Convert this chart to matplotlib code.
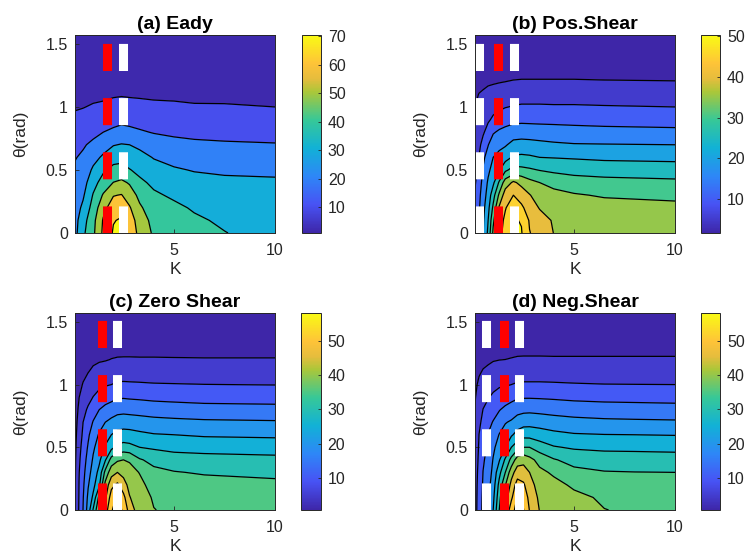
import numpy as np
import matplotlib
matplotlib.use("Agg")
import matplotlib.pyplot as plt
from matplotlib.colors import LinearSegmentedColormap, Normalize
from matplotlib.cm import ScalarMappable

plt.rcParams['font.family'] = ['Liberation Sans', 'DejaVu Sans']

# parula-like colormap anchors (position, colour)
parula_anchors = [
    (0.0, (0.2422, 0.1504, 0.6603)), (1 / 7, (0.2810, 0.3228, 0.9579)),
    (2 / 7, (0.1786, 0.5289, 0.9682)), (3 / 7, (0.0689, 0.6948, 0.8394)),
    (4 / 7, (0.2161, 0.7843, 0.5923)), (5 / 7, (0.6720, 0.7793, 0.2227)),
    (0.78, (0.90, 0.74, 0.24)), (6 / 7, (0.9970, 0.7659, 0.2199)),
    (1.0, (0.9769, 0.9839, 0.0805))]
parula = LinearSegmentedColormap.from_list("parula", parula_anchors, N=256)

# shared theta grid (rad)
theta = [0, 0.1, 0.2, 0.3, 0.4, 0.5, 0.6, 0.7, 0.8, 0.9, 1.0, 1.1, 1.2, 1.35, 1.5708]

# ---------------- (a) Eady ----------------
k_a = [0.1, 0.5, 1.0, 1.5, 2.0, 2.4, 2.8, 3.3, 4.0, 5.0, 6.0, 7.5, 10]
z_a_cols = [
    [27, 26.5, 25.5, 24.5, 23, 21.3, 19.5, 17, 14.5, 11.8, 9.2, 7, 5.3, 3.5, 1.8],
    [38, 36, 32, 28.7, 26, 24, 21.5, 19, 15.8, 12.7, 9.7, 7.5, 5.7, 3.8, 2],
    [48, 47, 44, 40.7, 36.5, 31.5, 27, 22, 17.5, 14, 10.8, 8, 6, 4, 2],
    [62, 61, 57, 51, 44, 38.5, 31.5, 26, 20, 15, 11.5, 8.3, 6, 4, 2],
    [71, 69.5, 65, 59.5, 50.2, 43, 36, 29.5, 22, 16.5, 12.8, 9, 6.5, 4, 2],
    [72, 71, 67, 60.5, 52, 43.5, 37, 30.5, 23.5, 17.5, 13.3, 9.3, 6.7, 4, 2],
    [67, 65.5, 61, 55, 49, 40.5, 35, 30, 22.5, 17, 13, 9, 6.5, 4, 2],
    [57, 55, 51.5, 47.5, 42, 37.5, 33, 28, 21, 16.5, 12.5, 8.8, 6.5, 4, 2],
    [48.5, 47, 44.5, 41.5, 38, 33.5, 29.5, 24.5, 19.5, 15.5, 11.8, 8.5, 6.3, 4, 2],
    [46, 44.5, 42, 38.5, 35, 31, 27, 22.5, 18.5, 15, 11.3, 8.5, 6.2, 4, 2],
    [43, 41.5, 39, 36.5, 33, 29.5, 26, 21.5, 18, 14.5, 10.8, 8, 6, 4, 2],
    [40.3, 38.5, 36.5, 34.5, 32, 28.5, 25.5, 21, 17.5, 14, 10.7, 8, 6, 4, 2],
    [36, 35.5, 34.5, 33.5, 31.5, 28, 25, 20.5, 17, 13.5, 10, 7.5, 5.5, 3.5, 2],
]
levels_a = [10, 20, 30, 40, 50, 60, 70]
clim_a = (1.0, 70.5)
cticks_a = [10, 20, 30, 40, 50, 60, 70]
white_a = [2.46]
red_a = [1.67]

# ---------------- (b) Pos.Shear ----------------
k_b = [0.1, 0.3, 0.5, 0.75, 1.0, 1.3, 1.6, 2.0, 2.4, 2.8, 3.3, 4.0, 5.0, 6.5, 10]
z_b_cols = [
    [12, 11.8, 11.3, 10.5, 9.5, 8.5, 7.6, 6.8, 6.1, 5.5, 5.0, 4.4, 3.6, 2.4, 1.6],
    [15, 14.8, 14.4, 13.8, 12.8, 11.5, 10.2, 8.8, 7.5, 6.6, 5.8, 5.1, 4, 2.5, 1.6],
    [19.8, 19.3, 18.5, 17.5, 16.5, 15.4, 14, 11.8, 9.3, 7.7, 6.6, 5.4, 4.3, 2.6, 1.6],
    [26, 25, 23.5, 22, 20.7, 19, 17, 14.8, 12, 9.3, 7.5, 6, 4.5, 2.7, 1.6],
    [36, 34, 31, 28, 24, 21.8, 20, 17.8, 14.5, 10.8, 8.5, 6.5, 4.6, 2.7, 1.6],
    [43, 42, 40.7, 36, 30.7, 24.7, 21.5, 18.7, 15.8, 12, 9.2, 7, 4.8, 2.8, 1.6],
    [47.5, 46.5, 44.5, 42.5, 37.5, 29, 23, 19.5, 16.5, 13, 9.8, 7.5, 5, 2.9, 1.6],
    [51, 50.5, 49.2, 45, 40.8, 31.8, 25.7, 21.5, 17.6, 13.6, 10.3, 7.8, 5.2, 3, 1.6],
    [50.3, 49.7, 46, 42.7, 38.7, 31.3, 26, 21.8, 17.8, 13.8, 10.6, 7.9, 5.3, 3, 1.6],
    [45.2, 44.5, 42.5, 40.3, 36.5, 30.7, 25.7, 21.6, 17.7, 13.7, 10.6, 7.9, 5.3, 3, 1.6],
    [43, 42, 39.7, 37.5, 35, 29.8, 25, 21.2, 17.5, 13.6, 10.6, 7.9, 5.3, 3, 1.6],
    [39.9, 39.5, 38.5, 36.5, 33.5, 29, 24.8, 20.7, 17.3, 13.5, 10.5, 7.8, 5.3, 3, 1.6],
    [39.5, 39, 38, 35.5, 32, 28.5, 24.5, 20.3, 17, 13.3, 10.5, 7.8, 5.3, 3, 1.6],
    [39, 38.5, 37, 34.5, 31.5, 28, 24, 20.2, 16.7, 13, 10.3, 7.7, 5.2, 3, 1.6],
    [38.5, 38, 36.5, 33.7, 31, 27.5, 23.7, 20, 16.3, 12.7, 10, 7.5, 5.1, 3, 1.6],
]
levels_b = [5, 10, 15, 20, 25, 30, 35, 40, 45, 50]
clim_b = (1.6, 50.3)
cticks_b = [10, 20, 30, 40, 50]
white_b = [0.32, 2.03]
red_b = [1.26]

# ---------------- (c) Zero Shear ----------------
k_c = [0.1, 0.3, 0.5, 0.75, 1.0, 1.3, 1.6, 1.9, 2.2, 2.5, 2.8, 3.3, 4.0, 5.0, 6.5, 10]
z_c_cols = [
    [4.8, 4.7, 4.6, 4.4, 4.2, 3.9, 3.6, 3.3, 2.9, 2.6, 2.3, 2.0, 1.7, 1.3, 0.8],
    [10.5, 10.3, 10.1, 9.8, 9.2, 8.5, 7.6, 6.7, 5.8, 4.9, 4.1, 3.4, 2.8, 1.9, 0.9],
    [15.1, 14.7, 14.1, 13.4, 12.6, 11.7, 10.8, 10, 8.5, 6.8, 5.2, 4.2, 3.3, 2.1, 0.9],
    [22.2, 21, 19.6, 18.2, 16.8, 15.5, 14.2, 12.5, 10.7, 8.5, 6.7, 4.9, 3.8, 2.3, 0.9],
    [30.5, 26, 23.5, 22, 20.6, 19.2, 17.5, 15.3, 12.8, 10.1, 8, 5.8, 4.2, 2.5, 0.9],
    [40, 36.5, 29, 26.5, 24, 22.3, 20.5, 18, 15, 11.5, 9, 6.7, 4.5, 2.6, 0.9],
    [47.5, 44, 41.5, 36.5, 29.5, 25.5, 23, 20, 16.5, 12.7, 9.6, 7.2, 4.7, 2.7, 0.9],
    [54.5, 52.5, 48.5, 43, 37, 28.5, 25, 21.3, 17.5, 13.5, 10, 7.6, 5.1, 2.8, 0.9],
    [57.5, 55.8, 51, 45, 39.3, 31.3, 26.5, 22.5, 18.3, 14.5, 10.6, 7.9, 5.3, 2.9, 1.0],
    [54, 51.5, 47, 43.5, 40, 32, 26.8, 22.8, 18.5, 14.6, 10.7, 7.9, 5.35, 2.9, 1.0],
    [48, 45.3, 43.5, 41.7, 39.5, 31.5, 26.7, 22.6, 18.3, 14.4, 10.6, 7.9, 5.35, 2.9, 1.0],
    [42, 41.7, 41.2, 39.8, 35.5, 30, 26, 22.2, 18, 14.2, 10.5, 7.8, 5.3, 2.9, 1.0],
    [40.1, 39.6, 38.2, 36.3, 33.5, 29.3, 25.3, 21.6, 17.6, 13.8, 10.3, 7.7, 5.3, 2.9, 1.0],
    [39.3, 38.8, 37.6, 35.3, 32, 28.7, 25, 21.2, 17.3, 13.5, 10.2, 7.6, 5.25, 2.9, 1.0],
    [38.8, 38.3, 37, 34.5, 31.7, 28.3, 24.4, 20.8, 16.9, 13.1, 10.05, 7.5, 5.2, 2.9, 1.0],
    [38.3, 37.8, 36.3, 33.7, 31.3, 27.8, 24.1, 20.5, 16.6, 12.9, 9.9, 7.4, 5.2, 2.9, 1.0],
]
levels_c = [5, 10, 15, 20, 25, 30, 35, 40, 45, 50, 55]
clim_c = (0.8, 58)
cticks_c = [10, 20, 30, 40, 50]
white_c = [2.16]
red_c = [1.45]

# ---------------- (d) Neg.Shear ----------------
k_d = [0.1, 0.3, 0.5, 0.75, 1.0, 1.3, 1.6, 1.9, 2.2, 2.5, 2.8, 3.3, 4.0, 5.0, 6.5, 8.0, 10]
z_d_cols = [
    [8, 7.9, 7.7, 7.4, 7.1, 6.7, 6.2, 5.7, 5.2, 4.7, 4.2, 3.6, 3, 2.1, 1],
    [12.5, 12.3, 12, 11.6, 11, 10.5, 10.05, 9, 7.8, 6.8, 5.7, 4.6, 3.7, 2.3, 1],
    [16.2, 15.9, 15.5, 15.1, 14.4, 13.5, 12.5, 11.3, 10.1, 8.6, 7, 5.3, 4.1, 2.5, 1],
    [19.5, 19, 18.3, 17.5, 16.6, 15.8, 15.2, 13.5, 11.5, 9.7, 7.8, 5.8, 4.4, 2.6, 1],
    [25, 23.8, 22.5, 21.3, 20.3, 19, 17.3, 15.3, 13, 10.8, 8.7, 6.6, 4.7, 2.7, 1],
    [35, 33.3, 31.5, 28.5, 24.5, 22.2, 20.2, 17.5, 14.7, 11.8, 9.4, 7.1, 4.9, 2.8, 1],
    [45, 42.5, 39.7, 35, 30.8, 25, 22, 19.7, 16.2, 12.5, 9.6, 7.3, 5, 2.8, 1],
    [53, 49, 46.5, 43, 36.5, 30, 24.3, 20.6, 17.3, 13.5, 10, 7.6, 5.2, 2.9, 1],
    [57, 55.5, 52.2, 47.5, 42.5, 33, 26.8, 22.2, 18.4, 14.4, 10.5, 7.8, 5.4, 3, 1],
    [55.2, 53.5, 50.7, 47.5, 43.3, 35, 28.3, 23, 18.8, 14.6, 10.6, 7.9, 5.45, 3, 1],
    [49.8, 48.5, 47, 45, 41.5, 35, 28.2, 23.2, 18.9, 14.6, 10.6, 7.9, 5.45, 3, 1],
    [44.8, 44, 42.8, 41.2, 38.3, 32.6, 27.3, 22.9, 18.6, 14.5, 10.6, 7.9, 5.45, 3, 1],
    [43.8, 43, 41.5, 39.2, 35.4, 30.4, 26.2, 22.3, 18.1, 14.3, 10.5, 7.8, 5.4, 3, 1],
    [42.3, 41.2, 39.2, 36.3, 33.3, 29.4, 25.4, 21.6, 17.6, 13.9, 10.3, 7.7, 5.4, 3, 1],
    [40.1, 39.3, 38, 35.3, 32.3, 29, 25.1, 21.1, 17.2, 13.6, 10.1, 7.6, 5.4, 3, 1],
    [39.4, 38.8, 37.6, 35.1, 32.2, 28.9, 25, 20.9, 17, 13.5, 10.05, 7.6, 5.4, 3, 1],
    [39, 38.5, 37.3, 35, 32, 28.7, 24.8, 20.7, 16.8, 13.3, 10, 7.6, 5.4, 3, 1],
]
levels_d = [5, 10, 15, 20, 25, 30, 35, 40, 45, 50, 55]
clim_d = (0.8, 58)
cticks_d = [10, 20, 30, 40, 50]
white_d = [0.64, 2.29]
red_d = [1.55]

titles = ["(a) Eady", "(b) Pos.Shear", "(c) Zero Shear", "(d) Neg.Shear"]
x_ticks = [5, 10]
y_ticks = [0, 0.5, 1, 1.5]
y_ticklabels = ["0", "0.5", "1", "1.5"]

panels = [
    (k_a, z_a_cols, levels_a, clim_a, cticks_a, white_a, red_a),
    (k_b, z_b_cols, levels_b, clim_b, cticks_b, white_b, red_b),
    (k_c, z_c_cols, levels_c, clim_c, cticks_c, white_c, red_c),
    (k_d, z_d_cols, levels_d, clim_d, cticks_d, white_d, red_d),
]

W, H = 752, 560
ax_px = [(75, 35, 200, 198), (475, 35, 200, 198), (75, 313, 200, 197), (475, 313, 200, 197)]
cb_px = [(301.5, 35, 19.5, 198), (701, 35, 19, 198), (301, 313, 19.5, 197), (701, 313, 19, 197)]

def frac(r):
    x, y, w, h = r
    return [x / W, 1 - (y + h) / H, w / W, h / H]

fig = plt.figure(figsize=(W / 100, H / 100), dpi=100)
dark = "#262626"
th = np.array(theta)

for i, (k, zc, levels, clim, cticks, whites, reds) in enumerate(panels):
    ax = fig.add_axes(frac(ax_px[i]))
    K = np.array(k)
    Z = np.array(zc, dtype=float).T
    norm = Normalize(vmin=clim[0], vmax=clim[1])
    zmin, zmax = Z.min(), Z.max()
    fill_lv = [zmin - 0.01] + list(levels) + [max(zmax, levels[-1]) + 0.01]
    cols = [parula(norm(max(v, zmin))) for v in fill_lv[:-1]]
    ax.contourf(K, th, Z, levels=fill_lv, colors=cols, antialiased=True)
    ax.contour(K, th, Z, levels=levels, colors="k", linewidths=0.9)
    for kx in whites:
        ax.plot([kx, kx], [0, np.pi / 2], color="white", lw=6.5, dashes=(3, 3),
                dash_capstyle="butt")
    for kx in reds:
        ax.plot([kx, kx], [0, np.pi / 2], color="red", lw=6.5, dashes=(3, 3),
                dash_capstyle="butt")
    ax.set_xlim(0.1, 10)
    ax.set_ylim(0, np.pi / 2)
    ax.set_xticks(x_ticks)
    ax.set_yticks(y_ticks)
    ax.set_yticklabels(y_ticklabels)
    ax.tick_params(direction="in", length=3, width=0.6, colors=dark, labelsize=11.5)
    ax.tick_params(axis="x", pad=7)
    ax.tick_params(axis="y", pad=5)
    for s in ax.spines.values():
        s.set_color(dark)
        s.set_linewidth(0.7)
    ax.set_title(titles[i], fontsize=14, fontweight="bold", pad=4, color="black")
    ax.set_xlabel("K", fontsize=12.5, color=dark)
    ax.set_ylabel("θ(rad)", fontsize=12.5, color=dark)
    ax.xaxis.set_label_coords(0.5, -0.145)
    ax.yaxis.set_label_coords(-0.235, 0.5)

    cax = fig.add_axes(frac(cb_px[i]))
    sm = ScalarMappable(norm=norm, cmap=parula)
    cb = fig.colorbar(sm, cax=cax, ticks=cticks)
    cb.outline.set_edgecolor(dark)
    cb.outline.set_linewidth(0.7)
    cax.tick_params(direction="in", length=2.5, width=0.6, colors=dark, labelsize=11.5, pad=5)

fig.savefig("out.png", dpi=100)
